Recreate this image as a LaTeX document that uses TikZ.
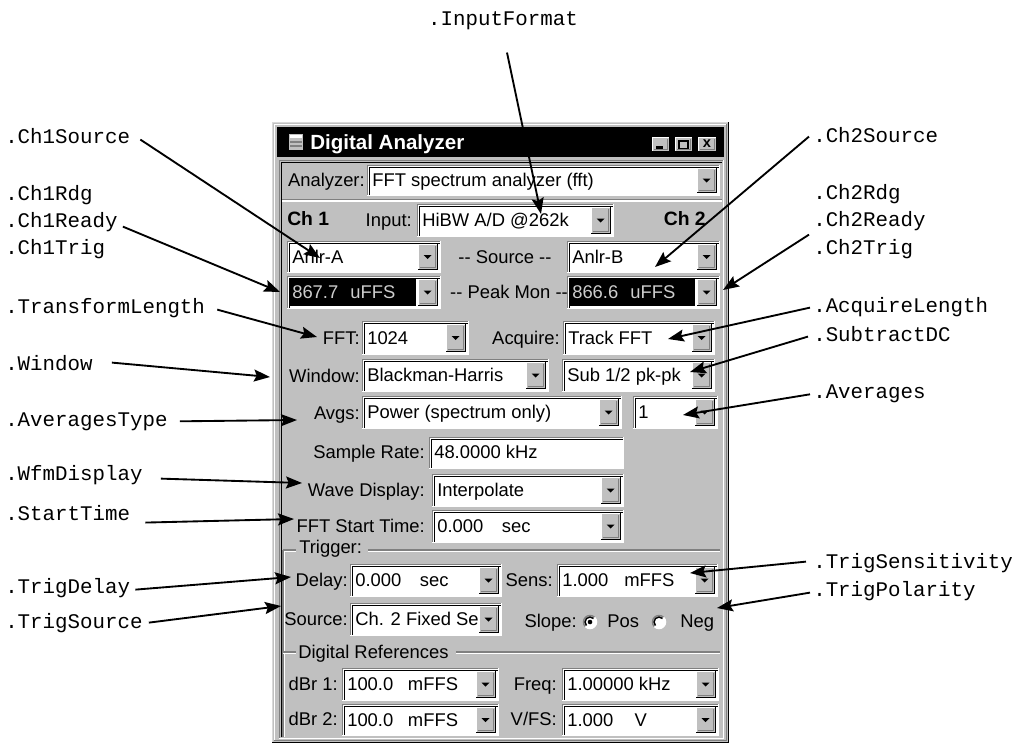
\documentclass[tikz,border=0pt]{standalone}
\usepackage{fontspec}
\setmainfont{Liberation Sans}
\setmonofont{Liberation Mono}
\usetikzlibrary{arrows.meta}
\definecolor{guigray}{RGB}{192,192,192}
\definecolor{dkg}{RGB}{128,128,128}
\definecolor{ledtxt}{RGB}{205,205,205}
\tikzset{
  lbl/.style={font=\ttfamily\fontsize{15.6}{18}\selectfont, inner sep=0pt},
  gt/.style={font=\fontsize{13.8}{16}\selectfont, inner sep=0pt},
  gtb/.style={font=\bfseries\fontsize{14.5}{16}\selectfont, inner sep=0pt},
  conn/.style={line width=1.4pt, -{Stealth[length=12pt,width=9pt,inset=2pt]}},
  px/.style={line width=1.1pt},
}
\newcommand{\sunkbox}[4]{%
  \fill[white] (#1,#2) rectangle (#3,#4);
  \draw[dkg,px] (#1+0.75,#4) -- (#1+0.75,#2+0.75) -- (#3,#2+0.75);
  \draw[black,px] (#1+2.25,#4-1.5) -- (#1+2.25,#2+2.25) -- (#3-1.5,#2+2.25);
  \draw[white,px] (#1,#4-0.75) -- (#3-0.75,#4-0.75) -- (#3-0.75,#2);
}
\newcommand{\raisedbx}[4]{%
  \fill[guigray] (#1,#2) rectangle (#3,#4);
  \draw[white,px] (#1+0.75,#4-1.5) -- (#1+0.75,#2+0.75) -- (#3-1.5,#2+0.75);
  \draw[dkg,px] (#1+1.5,#4-2.25) -- (#3-2.25,#4-2.25) -- (#3-2.25,#2+1.5);
  \draw[black,px] (#1,#4-0.75) -- (#3-0.75,#4-0.75) -- (#3-0.75,#2);
}
\newcommand{\ddbtn}[4]{%
  \raisedbx{#1}{#2}{#3}{#4}
  \fill[black] ({(#1+#3)/2-4.5},{(#2+#4)/2-2}) -- ++(8,0) -- ++(-4,4) -- cycle;
}
\newcommand{\combo}[6]{%
  \sunkbox{#1}{#2}{#3}{#4}
  \node[gt,anchor=base west] (#5) at (#1+5,{(#2+#4)/2+6}) {#6};
  \ddbtn{#3-23}{#2+3}{#3-3}{#4-3}
}
\newcommand{\readout}[6]{%
  \sunkbox{#1}{#2}{#3}{#4}
  \fill[black] (#1+3,#2+3) rectangle (#3-25,#4-3);
  \node[gt,anchor=base west,text=ledtxt] (#5) at (#1+5,{(#2+#4)/2+6}) {#6};
  \ddbtn{#3-23}{#2+3}{#3-3}{#4-3}
}
\newcommand{\glabel}[4]{\node[gt,anchor=base east] (#1) at (#2,#3+6) {#4};}
\newcommand{\etchline}[3]{%
  \draw[dkg,px] (#1,#3) -- (#2,#3);
  \draw[white,px] (#1,#3+1.5) -- (#2,#3+1.5);
}
\newcommand{\radiobtn}[3]{%
  \fill[white] (#1,#2) circle (6.5);
  \draw[dkg,px] (#1,#2) ++(135:6.5) arc[start angle=135,end angle=315,radius=6.5];
  \draw[black,px] (#1,#2) ++(135:5) arc[start angle=135,end angle=315,radius=5];
  \draw[white,px] (#1,#2) ++(-45:6.5) arc[start angle=-45,end angle=135,radius=6.5];
  \ifnum#3=1 \fill[black] (#1,#2) circle (2.3);\fi
}
\begin{document}
\begin{tikzpicture}[x=0.75pt,y=-0.75pt]
\useasboundingbox (0,0) rectangle (1027,746);
\fill[white] (0,0) rectangle (1027,746);

% ---------------- window ----------------
\fill[guigray] (272,122) rectangle (729,743);
\draw[gray!30,px] (272.75,742) -- (272.75,122.75) -- (728,122.75);
\draw[white,px] (274.25,741) -- (274.25,124.25) -- (727,124.25);
\draw[black,px] (272,742.25) -- (728.25,742.25) -- (728.25,122);
\draw[dkg,px] (273.5,740.75) -- (726.75,740.75) -- (726.75,123.5);
% title bar
\fill[black] (277,127) rectangle (724,157);
\fill[guigray] (289,134) rectangle (303,150);
\fill[white] (290,135) rectangle (302,138);
\draw[dkg,px] (290,142) -- (302,142);
\draw[dkg,px] (290,146) -- (302,146);
\node[anchor=base west, text=white, font=\bfseries\fontsize{15.4}{18}\selectfont, inner sep=0pt] (title) at (310,149) {Digital Analyzer};
\raisedbx{652}{137}{670}{152}
\fill[black] (656,145.5) rectangle (663,148.5);
\raisedbx{675}{137}{693}{152}
\draw[black,px] (679,140.5) rectangle (688,148.5);
\draw[black,line width=1.6pt] (679,141.2) -- (688,141.2);
\raisedbx{698}{137}{717}{152}
\node[font=\bfseries\fontsize{11}{12}\selectfont, inner sep=0pt] (tbx) at (707,144) {x};
% client area border
\draw[dkg,px] (279.75,738) -- (279.75,160.75) -- (723,160.75);
\draw[black,px] (281.25,737) -- (281.25,162.25) -- (722,162.25);
\draw[white,px] (279,738.25) -- (723.25,738.25) -- (723.25,160);

% Analyzer row
\glabel{l-an}{365}{180}{Analyzer:}
\combo{367}{165}{720}{196}{v-an}{FFT spectrum analyzer (fft)}
\etchline{282}{722}{199.5}

% Ch row
\node[gtb, anchor=base west] (ch1) at (287,225) {Ch 1};
\glabel{l-in}{412}{220}{Input:}
\combo{417}{204}{614}{237}{v-in}{HiBW A/D @262k}
\node[gtb, anchor=base east] (ch2) at (706,225) {Ch 2};

% Source row
\combo{287}{241}{441}{273}{v-s1}{Anlr-A}
\node[gt,anchor=base] (l-src) at (505,263) {-{}- Source -{}-};
\combo{567}{241}{720}{273}{v-s2}{Anlr-B}

% Peak Mon row
\readout{287}{276}{441}{309}{v-p1}{867.7\hspace{9pt}uFFS}
\node[gt,anchor=base] (l-pm) at (509,298) {-{}- Peak Mon -{}-};
\readout{567}{276}{720}{309}{v-p2}{866.6\hspace{9pt}uFFS}

% FFT row
\glabel{l-fft}{360}{338}{FFT:}
\combo{362}{321}{469}{355}{v-fft}{1024}
\glabel{l-acq}{560}{338}{Acquire:}
\combo{563}{321}{715}{355}{v-acq}{Track FFT}

% Window row
\glabel{l-win}{360}{376}{Window:}
\combo{362}{359}{549}{392}{v-win}{Blackman-Harris}
\combo{562}{359}{715}{392}{v-sub}{Sub 1/2 pk-pk}

% Avgs row
\glabel{l-avg}{360}{413}{Avgs:}
\combo{362}{396}{622}{429}{v-avg}{Power (spectrum only)}
\combo{633}{396}{718}{429}{v-avn}{1}

% Sample rate
\glabel{l-sr}{425}{452}{Sample Rate:}
\sunkbox{429}{437}{624}{469}
\node[gt,anchor=base west] (v-sr) at (434,458) {48.0000 kHz};

% Wave display
\glabel{l-wd}{425}{490}{Wave Display:}
\combo{432}{474}{624}{507}{v-wd}{Interpolate}

% FFT start time
\glabel{l-fst}{425}{526}{FFT Start Time:}
\combo{432}{510}{624}{543}{v-fst}{0.000\hspace{14pt}sec}

% Trigger group
\etchline{283}{296}{550}
\etchline{368}{720}{550}
\node[gt,anchor=base west] (l-trig) at (299,553) {Trigger:};
\draw[dkg,px] (283,550) -- (283,737);
\draw[white,px] (284.5,551.5) -- (284.5,737);

\glabel{l-dl}{348}{580}{Delay:}
\combo{350}{564}{502}{597}{v-dl}{0.000\hspace{14pt}sec}
\glabel{l-sens}{553}{580}{Sens:}
\combo{557}{564}{718}{597}{v-sens}{1.000\hspace{12pt}mFFS}

\glabel{l-tsrc}{348}{619}{Source:}
\combo{350}{603}{502}{636}{v-tsrc}{Ch. 2 Fixed Se}
\glabel{l-slope}{577}{621}{Slope:}
\radiobtn{590}{622}{1}
\node[gt,anchor=base west] (l-pos) at (607,627) {Pos};
\radiobtn{659}{622}{0}
\node[gt,anchor=base west] (l-neg) at (680,627) {Neg};

% Digital references group
\etchline{283}{296}{652}
\etchline{456}{720}{652}
\node[gt,anchor=base west] (l-dref) at (298,658) {Digital References};

\glabel{l-d1}{338}{684}{dBr 1:}
\combo{342}{668}{499}{701}{v-d1}{100.0\hspace{11pt}mFFS}
\glabel{l-freq}{557}{684}{Freq:}
\combo{562}{668}{719}{701}{v-freq}{1.00000 kHz}

\glabel{l-d2}{338}{719}{dBr 2:}
\combo{342}{704}{499}{736}{v-d2}{100.0\hspace{11pt}mFFS}
\glabel{l-vfs}{557}{719}{V/FS:}
\combo{562}{704}{719}{736}{v-vfs}{1.000\hspace{16pt}V}

% ---------------- labels ----------------
\node[lbl,anchor=base] (inputformat) at (503,26) {.InputFormat};
\node[lbl,anchor=base west] (ch1source) at (5,143) {.Ch1Source};
\node[lbl,anchor=base west] (ch1rdg) at (5,200) {.Ch1Rdg};
\node[lbl,anchor=base west] (ch1ready) at (5,227) {.Ch1Ready};
\node[lbl,anchor=base west] (ch1trig) at (5,254) {.Ch1Trig};
\node[lbl,anchor=base west] (translen) at (5,313) {.TransformLength};
\node[lbl,anchor=base west] (window) at (5,370) {.Window};
\node[lbl,anchor=base west] (avgtype) at (5,426) {.AveragesType};
\node[lbl,anchor=base west] (wfm) at (5,480) {.WfmDisplay};
\node[lbl,anchor=base west] (starttime) at (5,520) {.StartTime};
\node[lbl,anchor=base west] (trigdelay) at (5,593) {.TrigDelay};
\node[lbl,anchor=base west] (trigsource) at (5,628) {.TrigSource};

\node[lbl,anchor=base west] (ch2source) at (813,142) {.Ch2Source};
\node[lbl,anchor=base west] (ch2rdg) at (813,199) {.Ch2Rdg};
\node[lbl,anchor=base west] (ch2ready) at (813,226) {.Ch2Ready};
\node[lbl,anchor=base west] (ch2trig) at (813,254) {.Ch2Trig};
\node[lbl,anchor=base west] (acqlen) at (813,312) {.AcquireLength};
\node[lbl,anchor=base west] (subdc) at (813,341) {.SubtractDC};
\node[lbl,anchor=base west] (averages) at (813,398) {.Averages};
\node[lbl,anchor=base west] (trigsens) at (813,568) {.TrigSensitivity};
\node[lbl,anchor=base west] (trigpol) at (813,596) {.TrigPolarity};

% ---------------- arrow tips ----------------
\coordinate (t-if) at (541,214);
\coordinate (t-c1s) at (320,258);
\coordinate (t-c1r) at (280,292);
\coordinate (t-tl) at (317,337);
\coordinate (t-win) at (270,377);
\coordinate (t-at) at (297,420);
\coordinate (t-wfm) at (302,483);
\coordinate (t-st) at (294,519);
\coordinate (t-td) at (291,577);
\coordinate (t-ts) at (281,606);
\coordinate (t-c2s) at (655,267);
\coordinate (t-c2r) at (723,290);
\coordinate (t-al) at (668,339);
\coordinate (t-sdc) at (690,372);
\coordinate (t-avn) at (683,415);
\coordinate (t-tsn) at (690,573);
\coordinate (t-tp) at (717,608);

% ---------------- connectors ----------------
\draw[conn] ([shift={(4,22)}]inputformat.south) -- (t-if);
\draw[conn] ([shift={(10,4)}]ch1source.east) -- (t-c1s);
\draw[conn] ([shift={(5,5)}]ch1ready.east) -- (t-c1r);
\draw[conn] ([shift={(12,2)}]translen.east) -- (t-tl);
\draw[conn] ([shift={(19,0)}]window.east) -- (t-win);
\draw[conn] ([shift={(12,0)}]avgtype.east) -- (t-at);
\draw[conn] ([shift={(18,4)}]wfm.east) -- (t-wfm);
\draw[conn] ([shift={(15,10)}]starttime.east) -- (t-st);
\draw[conn] ([shift={(5,2)}]trigdelay.east) -- (t-td);
\draw[conn] ([shift={(6,0)}]trigsource.east) -- (t-ts);
\draw[conn] ([shift={(-4,2)}]ch2source.west) -- (t-c2s);
\draw[conn] ([shift={(-4,14)}]ch2ready.west) -- (t-c2r);
\draw[conn] ([shift={(-3,1)}]acqlen.west) -- (t-al);
\draw[conn] ([shift={(-5,3)}]subdc.west) -- (t-sdc);
\draw[conn] ([shift={(-3,1)}]averages.west) -- (t-avn);
\draw[conn] ([shift={(-7,-1)}]trigsens.west) -- (t-tsn);
\draw[conn] ([shift={(-3,2)}]trigpol.west) -- (t-tp);
\end{tikzpicture}
\end{document}
